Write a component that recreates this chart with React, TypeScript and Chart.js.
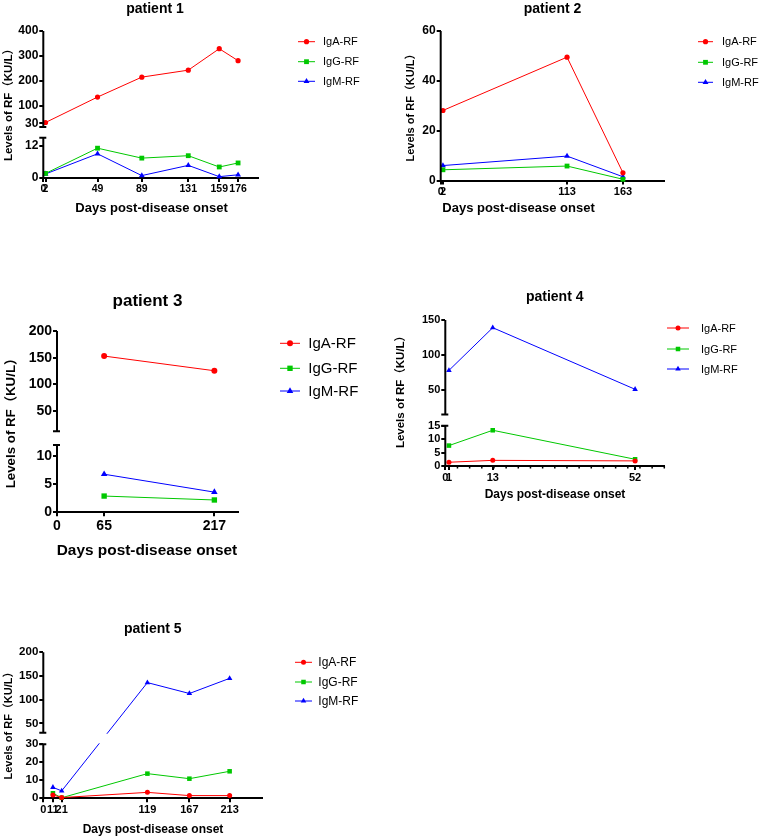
import React, { useEffect, useRef } from 'react';
import { Chart, registerables, LinearScale } from 'chart.js';

Chart.register(...registerables);

// ---------------- DATA ----------------
const seriesNames = ['IgA-RF', 'IgG-RF', 'IgM-RF'];

const p1Days = [2, 49, 89, 131, 159, 176];
const p1IgA = [33, 135, 215, 243, 329, 281];
const p1IgG = [1.7, 11.1, 7.4, 8.3, 4.1, 5.6];
const p1IgM = [1.5, 9.0, 0.9, 4.7, 0.5, 1.2];
const p1XTicks = [0, 2, 49, 89, 131, 159, 176];
const p1YTicks = [0, 12, 30, 100, 200, 300, 400];

const p2Days = [2, 113, 163];
const p2IgA = [28.1, 49.5, 3.1];
const p2IgG = [4.3, 5.8, 0.5];
const p2IgM = [6.0, 9.8, 1.5];
const p2XTicks = [0, 2, 113, 163];
const p2YTicks = [0, 20, 40, 60];

const p3Days = [65, 217];
const p3IgA = [153, 125.5];
const p3IgG = [2.9, 2.2];
const p3IgM = [6.8, 3.6];
const p3XTicks = [0, 65, 217];
const p3YTicks = [0, 5, 10, 50, 100, 150, 200];

const p4Days = [1, 13, 52];
const p4IgA = [1.4, 2.1, 1.9];
const p4IgG = [7.6, 13.3, 2.5];
const p4IgM = [78, 139, 51];
const p4XTicks = [0, 1, 13, 52];
const p4YTicks = [0, 5, 10, 15, 50, 100, 150];

const p5Days = [11, 21, 119, 167, 213];
const p5IgA = [1.9, 0.4, 3.3, 1.5, 1.5];
const p5IgG = [2.8, 0.3, 13.7, 10.9, 15.0];
const p5IgM = [6.1, 4.1, 136, 113, 145];
const p5XTicks = [0, 11, 21, 119, 167, 213];
const p5YTicks = [0, 10, 20, 30, 50, 100, 150, 200];

// ---------------- STYLE ----------------
const FONT = '"Liberation Sans", Arial, "Noto Sans CJK SC", sans-serif';
const COLORS = ['#ff0000', '#00c800', '#0000ff'];
const STYLES = ['circle', 'rect', 'triangle'];
const YAXW = 30;
const XAXH = 22;
const AXLW = 2;
const YLABEL = 'Levels of RF（KU/L）';
const XLABEL = 'Days post-disease onset';

// ---------------- BROKEN AXIS SCALE ----------------
class BrokenScale extends LinearScale {
  static id = 'broken';
  static defaults = {};
  brkInfo() {
    const b: any = (this as any).options.brk;
    const H = this.bottom - this.top;
    const lowTop = this.bottom - H * b.lowFrac;
    const highBottom = lowTop - H * b.gapFrac;
    return { b, lowTop, highBottom };
  }
  getPixelForValue(value: number) {
    const b: any = (this as any).options.brk;
    if (!b || !b.on || value == null || isNaN(value)) return super.getPixelForValue(value);
    const { lowTop, highBottom } = this.brkInfo();
    if (value <= b.lowMax) {
      return this.bottom - ((value - this.min) / (b.lowMax - this.min)) * (this.bottom - lowTop);
    }
    return highBottom - ((value - b.highMin) / (this.max - b.highMin)) * (highBottom - this.top);
  }
  getValueForPixel(pixel: number) {
    const b: any = (this as any).options.brk;
    if (!b || !b.on) return super.getValueForPixel(pixel);
    const { lowTop, highBottom } = this.brkInfo();
    if (pixel >= lowTop) {
      return this.min + ((this.bottom - pixel) / (this.bottom - lowTop)) * (b.lowMax - this.min);
    }
    return b.highMin + ((highBottom - pixel) / (highBottom - this.top)) * (this.max - b.highMin);
  }
}
Chart.register(BrokenScale);

// ---------------- PANELS ----------------
const PANELS: any[] = [
  {
    key: 'p1', title: 'patient 1', days: p1Days, series: [p1IgA, p1IgG, p1IgM],
    xTicks: p1XTicks, yTicks: p1YTicks, xMin: 0, xMax: 194, yMin: 0, yMax: 400,
    brk: { lowMax: 15, highMin: 15, lowTopPx: 137.7, highBottomPx: 127 },
    canvas: { x: 0, y: 0, w: 382, h: 225 },
    plot: { l: 43.3, r: 258, t: 31, b: 178 },
    fTitle: 14, fTickX: 10.5, fTickY: 12, fX: 13, fY: 11.5, fLeg: 11,
    titlePos: [155, 9.5], xLabPos: [151.5, 208], yLabPos: [9, 102],
    leg: { x1: 298, x2: 315, tx: 323, ys: [41.7, 61.7, 81.3] },
    radii: [2.6, 3.4, 3.4],
  },
  {
    key: 'p2', title: 'patient 2', days: p2Days, series: [p2IgA, p2IgG, p2IgM],
    xTicks: p2XTicks, yTicks: p2YTicks, xMin: 0, xMax: 200, yMin: 0, yMax: 60,
    brk: null,
    canvas: { x: 382, y: 0, w: 382, h: 225 },
    plot: { l: 440.7, r: 664.3, t: 31, b: 180.5 },
    fTitle: 14, fTickX: 11, fTickY: 12, fX: 13, fY: 11, fLeg: 11,
    titlePos: [552.5, 9.5], xLabPos: [518.5, 208], yLabPos: [410.5, 105],
    leg: { x1: 698, x2: 713, tx: 722, ys: [41.7, 62.3, 82.3] },
    radii: [2.6, 3.4, 3.4],
  },
  {
    key: 'p3', title: 'patient 3', days: p3Days, series: [p3IgA, p3IgG, p3IgM],
    xTicks: p3XTicks, yTicks: p3YTicks, xMin: 0, xMax: 250, yMin: 0, yMax: 200,
    brk: { lowMax: 12, highMin: 12, lowTopPx: 445.1, highBottomPx: 431.3 },
    canvas: { x: 0, y: 275, w: 382, h: 290 },
    plot: { l: 57, r: 238.3, t: 331, b: 512.3 },
    fTitle: 17, fTickX: 14, fTickY: 14, fX: 15.4, fY: 13.3, fLeg: 15,
    titlePos: [147.5, 301.7], xLabPos: [147, 551], yLabPos: [11, 420],
    leg: { x1: 280, x2: 300, tx: 308.3, ys: [343.3, 368.3, 391] },
    radii: [3, 3.8, 3.8],
  },
  {
    key: 'p4', title: 'patient 4', days: p4Days, series: [p4IgA, p4IgG, p4IgM],
    xTicks: p4XTicks, yTicks: p4YTicks, xMin: 0, xMax: 60, yMin: 0, yMax: 150,
    brk: { lowMax: 15, highMin: 15, lowTopPx: 425.7, highBottomPx: 414.5 },
    canvas: { x: 382, y: 280, w: 382, h: 225 },
    plot: { l: 445.3, r: 664.3, t: 320, b: 466 },
    fTitle: 14, fTickX: 11, fTickY: 11, fX: 12, fY: 11.5, fLeg: 11,
    titlePos: [554.7, 297.3], xLabPos: [555, 494.3], yLabPos: [401, 389],
    leg: { x1: 667, x2: 689, tx: 701, ys: [328, 349, 369] },
    radii: [2.5, 3.2, 3.2],
    minorStep: 10 / 3,
  },
  {
    key: 'p5', title: 'patient 5', days: p5Days, series: [p5IgA, p5IgG, p5IgM],
    xTicks: p5XTicks, yTicks: p5YTicks, xMin: 0, xMax: 250, yMin: 0, yMax: 200,
    brk: { lowMax: 30, highMin: 30, lowTopPx: 744.3, highBottomPx: 732.8 },
    canvas: { x: 0, y: 610, w: 382, h: 229 },
    plot: { l: 43.3, r: 262, t: 652.3, b: 798.3 },
    fTitle: 14, fTickX: 11, fTickY: 11.5, fX: 12, fY: 11, fLeg: 12,
    titlePos: [152.8, 629.3], xLabPos: [153, 830], yLabPos: [8.5, 723],
    leg: { x1: 295, x2: 312, tx: 318.3, ys: [662.3, 682, 701] },
    radii: [2.5, 3.2, 3.2],
  },
];

function drawMarker(ctx: CanvasRenderingContext2D, style: string, x: number, y: number, r: number, color: string) {
  ctx.fillStyle = color;
  ctx.beginPath();
  if (style === 'circle') {
    ctx.arc(x, y, r, 0, Math.PI * 2);
  } else if (style === 'rect') {
    const s = Math.SQRT1_2 * r;
    ctx.rect(x - s, y - s, 2 * s, 2 * s);
  } else {
    const rad = 0;
    ctx.moveTo(x + Math.sin(rad) * r, y - Math.cos(rad) * r);
    ctx.lineTo(x + Math.sin(rad + (2 * Math.PI) / 3) * r, y - Math.cos(rad + (2 * Math.PI) / 3) * r);
    ctx.lineTo(x + Math.sin(rad + (4 * Math.PI) / 3) * r, y - Math.cos(rad + (4 * Math.PI) / 3) * r);
    ctx.closePath();
  }
  ctx.fill();
}

function makeDecor(p: any) {
  const ox = p.canvas.x;
  const oy = p.canvas.y;
  return {
    id: 'decor_' + p.key,
    afterDatasetsDraw(chart: any) {
      const ctx = chart.ctx as CanvasRenderingContext2D;
      const ca = chart.chartArea;
      const ys = chart.scales.y;
      const xs = chart.scales.x;
      const ax = ca.left;
      ctx.save();
      ctx.strokeStyle = '#000';
      ctx.lineWidth = AXLW;
      if (p.brk) {
        const { lowTop, highBottom } = ys.brkInfo();
        ctx.fillStyle = '#fff';
        ctx.fillRect(ax + AXLW / 2, highBottom + 1, ca.right - ax + 20, lowTop - highBottom - 2);
        ctx.beginPath();
        ctx.moveTo(ax, ca.top);
        ctx.lineTo(ax, highBottom);
        ctx.moveTo(ax, lowTop);
        ctx.lineTo(ax, ca.bottom + AXLW / 2);
        ctx.moveTo(ax - 4, highBottom);
        ctx.lineTo(ax + 3, highBottom);
        ctx.moveTo(ax - 4, lowTop);
        ctx.lineTo(ax + 3, lowTop);
        ctx.stroke();
      } else {
        ctx.beginPath();
        ctx.moveTo(ax, ca.top);
        ctx.lineTo(ax, ca.bottom + AXLW / 2);
        ctx.stroke();
      }
      if (p.minorStep) {
        ctx.lineWidth = 1.5;
        ctx.beginPath();
        for (let v = p.minorStep; v <= p.xMax + 1e-6; v += p.minorStep) {
          const px = xs.getPixelForValue(v);
          ctx.moveTo(px, ca.bottom);
          ctx.lineTo(px, ca.bottom + 2.5);
        }
        ctx.stroke();
      }
      ctx.restore();
    },
    afterDraw(chart: any) {
      const ctx = chart.ctx as CanvasRenderingContext2D;
      ctx.save();
      ctx.fillStyle = '#000';
      ctx.textAlign = 'center';
      ctx.textBaseline = 'middle';
      ctx.font = `bold ${p.fTitle}px ${FONT}`;
      ctx.fillText(p.title, p.titlePos[0] - ox, p.titlePos[1] - oy);
      ctx.font = `bold ${p.fX}px ${FONT}`;
      ctx.fillText(XLABEL, p.xLabPos[0] - ox, p.xLabPos[1] - oy);
      ctx.save();
      ctx.translate(p.yLabPos[0] - ox, p.yLabPos[1] - oy);
      ctx.rotate(-Math.PI / 2);
      ctx.font = `bold ${p.fY}px ${FONT}`;
      ctx.fillText(YLABEL, 0, 0);
      ctx.restore();
      ctx.textAlign = 'left';
      ctx.font = `${p.fLeg}px ${FONT}`;
      chart.data.datasets.forEach((ds: any, i: number) => {
        const y = p.leg.ys[i] - oy;
        ctx.strokeStyle = COLORS[i];
        ctx.lineWidth = 1;
        ctx.beginPath();
        ctx.moveTo(p.leg.x1 - ox, y);
        ctx.lineTo(p.leg.x2 - ox, y);
        ctx.stroke();
        drawMarker(ctx, STYLES[i], (p.leg.x1 + p.leg.x2) / 2 - ox, y, p.radii[i], COLORS[i]);
        ctx.fillStyle = '#000';
        ctx.fillText(ds.label, p.leg.tx - ox, y + 0.5);
      });
      ctx.restore();
    },
  };
}

function Panel({ p }: { p: any }) {
  const ref = useRef<HTMLCanvasElement | null>(null);
  useEffect(() => {
    const cv = ref.current;
    if (!cv) return;
    const c = p.canvas;
    const pad = {
      left: p.plot.l - c.x - YAXW,
      top: p.plot.t - c.y,
      right: c.x + c.w - p.plot.r,
      bottom: c.y + c.h - p.plot.b - XAXH,
    };
    const H = p.plot.b - p.plot.t;
    const brk = p.brk
      ? {
          on: true,
          lowMax: p.brk.lowMax,
          highMin: p.brk.highMin,
          lowFrac: (p.plot.b - p.brk.lowTopPx) / H,
          gapFrac: (p.brk.lowTopPx - p.brk.highBottomPx) / H,
        }
      : { on: false };
    const datasets = p.series.map((vals: number[], i: number) => ({
      label: seriesNames[i],
      data: p.days.map((d: number, j: number) => ({ x: d, y: vals[j] })),
      borderColor: COLORS[i],
      backgroundColor: COLORS[i],
      pointBackgroundColor: COLORS[i],
      pointBorderColor: COLORS[i],
      pointBorderWidth: 0,
      pointStyle: STYLES[i],
      pointRadius: p.radii[i],
      borderWidth: 1,
      tension: 0,
      clip: false,
    }));
    const chart = new Chart(cv, {
      type: 'line',
      data: { datasets },
      options: {
        animation: false,
        responsive: false,
        layout: { padding: pad },
        plugins: { legend: { display: false }, tooltip: { enabled: false }, title: { display: false } },
        scales: {
          x: {
            type: 'linear',
            min: p.xMin,
            max: p.xMax,
            afterBuildTicks: (s: any) => {
              s.ticks = p.xTicks.map((v: number) => ({ value: v }));
            },
            afterFit: (s: any) => {
              s.height = XAXH;
            },
            ticks: {
              autoSkip: false,
              maxRotation: 0,
              padding: 1,
              color: '#000',
              font: { family: FONT, size: p.fTickX, weight: 'bold' },
            },
            grid: { drawOnChartArea: false, drawTicks: true, tickLength: 4, color: '#000', lineWidth: AXLW },
            border: { display: true, color: '#000', width: AXLW },
          },
          y: {
            type: 'broken',
            min: p.yMin,
            max: p.yMax,
            brk,
            afterBuildTicks: (s: any) => {
              s.ticks = p.yTicks.map((v: number) => ({ value: v }));
            },
            afterFit: (s: any) => {
              s.width = YAXW;
            },
            ticks: {
              autoSkip: false,
              padding: 1,
              color: '#000',
              font: { family: FONT, size: p.fTickY, weight: 'bold' },
            },
            grid: { drawOnChartArea: false, drawTicks: true, tickLength: 4, color: '#000', lineWidth: AXLW },
            border: { display: false },
          },
        } as any,
      },
      plugins: [makeDecor(p)],
    } as any);
    return () => chart.destroy();
  }, [p]);
  return (
    <canvas
      ref={ref}
      width={p.canvas.w}
      height={p.canvas.h}
      style={{ position: 'absolute', left: p.canvas.x, top: p.canvas.y, width: p.canvas.w, height: p.canvas.h }}
    />
  );
}

export default function App() {
  return (
    <div style={{ position: 'absolute', left: 0, top: 0, width: 764, height: 839, background: '#fff', overflow: 'hidden' }}>
      {PANELS.map((p) => (
        <Panel key={p.key} p={p} />
      ))}
    </div>
  );
}
